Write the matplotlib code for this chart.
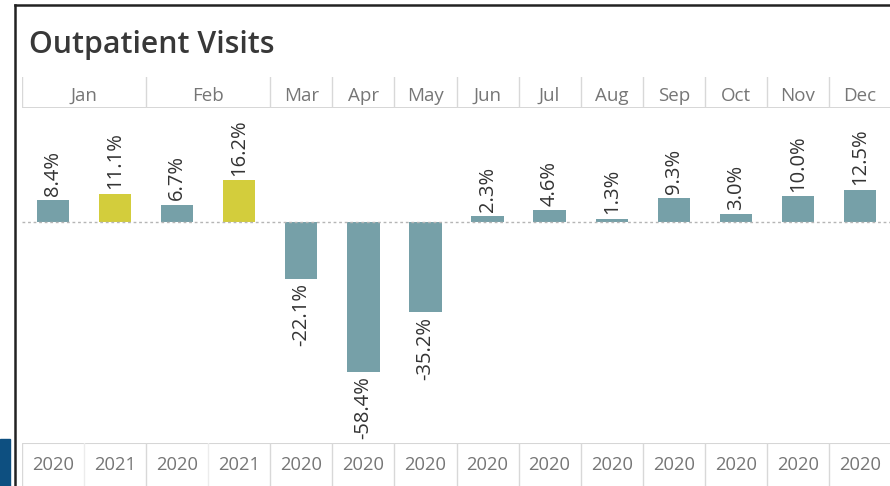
import matplotlib.pyplot as plt
from matplotlib.patches import Rectangle

# monthly year-over-year change in outpatient visits (%)
col_months = ['Jan', 'Jan', 'Feb', 'Feb', 'Mar', 'Apr', 'May', 'Jun',
              'Jul', 'Aug', 'Sep', 'Oct', 'Nov', 'Dec']
col_years = ['2020', '2021', '2020', '2021', '2020', '2020', '2020', '2020',
             '2020', '2020', '2020', '2020', '2020', '2020']
changes = [8.4, 11.1, 6.7, 16.2, -22.1, -58.4, -35.2, 2.3,
           4.6, 1.3, 9.3, 3.0, 10.0, 12.5]

year_colors = {'2020': '#76a0a8', '2021': '#d3cd3c'}

W, H = 890, 486
plt.rcParams['font.family'] = ['Open Sans', 'DejaVu Sans']


def rect(x0, y0, x1, y1):
    # pixel box (top-left origin) -> figure fraction
    return [x0 / W, 1 - y1 / H, (x1 - x0) / W, (y1 - y0) / H]


fig = plt.figure(figsize=(W / 100, H / 100), dpi=100)
fig.patch.set_facecolor('white')

X0, X1 = 22, 891
n = len(changes)

# --- main pane ---
ax = fig.add_axes(rect(X0, 108, X1, 443))
ax.set_xlim(0, n)
ax.set_ylim(-86.0, 44.4)
ax.axis('off')
ax.axhline(0, color='#b5b5b5', lw=1, ls=(0, (2, 2)))
for i, (v, yr) in enumerate(zip(changes, col_years)):
    ax.bar(i + 0.5, v, width=0.52, color=year_colors[yr])
    off = 1.8 if v >= 0 else -1.6
    ax.text(i + 0.5, v + off, f'{v:.1f}%', rotation=90, ha='center',
            va='bottom' if v >= 0 else 'top', fontsize=14.5, color='#333333')

# --- month header ---
hx = fig.add_axes(rect(X0, 77, X1, 108))
hx.set_xlim(0, n)
hx.set_ylim(0, 1)
hx.axis('off')
hx.axhline(0, color='#cfcfcf', lw=1.2)
groups = []
for i, m in enumerate(col_months):
    if groups and groups[-1][0] == m:
        groups[-1][2] = i + 1
    else:
        groups.append([m, i, i + 1])
for m, a, b in groups:
    hx.axvline(a, color='#d8d8d8', lw=1)
    hx.text((a + b) / 2, 0.38, m, ha='center', va='center',
            fontsize=13.5, color='#767676')
hx.axvline(n, color='#d8d8d8', lw=1)

# --- year footer ---
fx = fig.add_axes(rect(X0, 443, X1, 486))
fx.set_xlim(0, n)
fx.set_ylim(0, 1)
fx.axis('off')
fx.axhline(1, color='#d6d6d6', lw=1.5)
bounds = {a for _, a, _ in groups}
for i, yr in enumerate(col_years):
    fx.axvline(i, color='#d8d8d8' if i in bounds else '#ececec', lw=1)
    fx.text(i + 0.5, 0.5, yr, ha='center', va='center',
            fontsize=13.2, color='#767676')

# title and frame
fig.text(29 / W, 1 - 45 / H, 'Outpatient Visits', fontsize=21.8,
         weight='semibold', color='#383838', va='center', ha='left')
fig.add_artist(plt.Line2D([15.5 / W, 15.5 / W], [0, 1 - 5 / H],
                          color='#222222', lw=1.8))
fig.add_artist(plt.Line2D([15 / W, 1], [1 - 5 / H, 1 - 5 / H],
                          color='#222222', lw=1.8))
fig.add_artist(Rectangle((0, 0), 9.5 / W, 47 / H, transform=fig.transFigure,
                         color='#0d4f80'))

fig.savefig('out.png', dpi=100)
